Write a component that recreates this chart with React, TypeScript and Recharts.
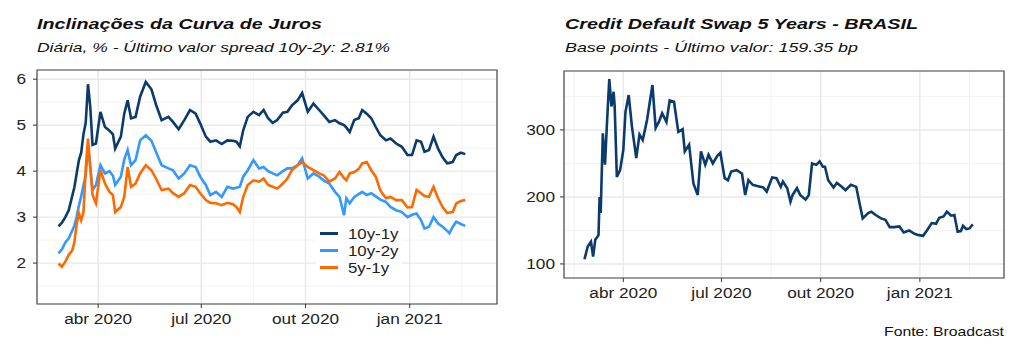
import { LineChart, Line, XAxis, YAxis, CartesianGrid, ReferenceArea, Legend } from 'recharts';

// Inclinações da curva (%, diária)
const slopeDates = [
  '2020-02-26', '2020-02-29', '2020-03-03', '2020-03-06', '2020-03-09', '2020-03-11', '2020-03-13', '2020-03-15',
  '2020-03-17', '2020-03-19', '2020-03-21', '2020-03-23', '2020-03-25', '2020-03-27', '2020-03-30',
  '2020-04-03', '2020-04-07', '2020-04-11', '2020-04-14', '2020-04-16', '2020-04-21', '2020-04-24', '2020-04-27', '2020-04-30',
  '2020-05-04', '2020-05-08', '2020-05-13', '2020-05-18', '2020-05-22', '2020-05-27',
  '2020-06-02', '2020-06-06', '2020-06-11', '2020-06-16', '2020-06-21', '2020-06-26', '2020-06-30',
  '2020-07-05', '2020-07-09', '2020-07-14', '2020-07-19', '2020-07-24', '2020-07-29',
  '2020-08-01', '2020-08-04', '2020-08-07', '2020-08-11', '2020-08-16', '2020-08-21', '2020-08-25', '2020-08-29',
  '2020-09-02', '2020-09-06', '2020-09-11', '2020-09-15', '2020-09-19', '2020-09-24', '2020-09-28',
  '2020-10-03', '2020-10-08', '2020-10-13', '2020-10-17', '2020-10-22', '2020-10-27', '2020-10-31',
  '2020-11-04', '2020-11-06', '2020-11-09', '2020-11-13', '2020-11-17', '2020-11-20', '2020-11-24', '2020-11-28',
  '2020-12-02', '2020-12-06', '2020-12-11', '2020-12-15', '2020-12-20', '2020-12-25', '2020-12-30',
  '2021-01-03', '2021-01-07', '2021-01-11', '2021-01-14', '2021-01-18', '2021-01-22', '2021-01-26', '2021-01-30',
  '2021-02-03', '2021-02-05', '2021-02-08', '2021-02-11', '2021-02-15', '2021-02-19',
];
const slope10y1y = [
  2.8, 2.88, 3.0, 3.15, 3.45, 3.65, 3.95, 4.24, 4.4, 4.8, 5.05, 5.89, 5.4, 4.57, 4.6,
  5.29, 4.96, 4.88, 4.8, 4.49, 4.75, 5.25, 5.54, 5.15,
  5.18, 5.62, 5.94, 5.78, 5.45, 5.11,
  5.18, 5.07, 4.91, 5.11, 5.33, 5.25, 5.04,
  4.75, 4.64, 4.67, 4.59, 4.67, 4.66,
  4.64, 4.54, 4.89, 5.18, 5.29, 5.22, 5.33, 5.15,
  5.05, 5.11, 5.27, 5.29, 5.43, 5.54, 5.7,
  5.29, 5.47, 5.33, 5.22, 5.07, 5.11, 5.04,
  5.0, 4.95, 4.85, 5.11, 5.15, 5.33, 5.25, 5.15,
  4.96, 4.78, 4.67, 4.71, 4.6, 4.53, 4.35,
  4.35, 4.67, 4.64, 4.42, 4.46, 4.75, 4.49, 4.3,
  4.17, 4.18, 4.2, 4.35, 4.4, 4.37,
];
const slope10y2y = [
  2.21, 2.3, 2.45, 2.54, 2.7, 2.82, 3.0, 3.25, 3.45, 3.7, 3.9, 4.55, 4.1, 3.59, 3.7,
  4.13, 3.95, 4.0, 3.9, 3.7, 3.88, 4.25, 4.46, 4.13,
  4.24, 4.67, 4.78, 4.66, 4.42, 4.13,
  4.06, 4.02, 3.84, 3.95, 4.13, 4.09, 3.88,
  3.7, 3.48, 3.55, 3.44, 3.66, 3.62,
  3.64, 3.66, 3.88, 4.02, 4.24, 4.06, 4.09, 4.0,
  3.95, 3.91, 4.0, 4.06, 4.06, 4.13, 4.28,
  3.84, 3.95, 3.88, 3.8, 3.73, 3.55, 3.44,
  3.04, 3.41, 3.3, 3.44, 3.5, 3.55, 3.48, 3.52,
  3.45, 3.38, 3.33, 3.22, 3.15, 3.11, 3.0,
  3.05, 3.08, 2.93, 2.75, 2.79, 3.0, 2.86, 2.79,
  2.7, 2.65, 2.79, 2.9, 2.85, 2.81,
];
const slope5y1y = [
  1.99, 1.92, 2.03, 2.18, 2.27, 2.45, 2.85, 3.08, 2.93, 3.1, 4.05, 4.71, 4.09, 3.48, 3.3,
  4.02, 3.73, 3.55, 3.48, 3.11, 3.22, 3.44, 4.09, 3.66,
  3.73, 3.95, 4.13, 4.02, 3.84, 3.59,
  3.62, 3.52, 3.44, 3.52, 3.7, 3.66, 3.52,
  3.37, 3.31, 3.3, 3.26, 3.31, 3.28,
  3.22, 3.11, 3.44, 3.7, 3.8, 3.77, 3.84, 3.7,
  3.66, 3.62, 3.73, 3.84, 4.02, 4.13, 4.2,
  4.09, 4.02, 3.95, 3.91, 3.77, 3.84, 3.98,
  3.85, 3.8, 3.95, 3.98, 4.05, 4.17, 4.2, 4.02,
  3.88, 3.58, 3.41, 3.44, 3.37, 3.37, 3.21,
  3.22, 3.59, 3.52, 3.46, 3.44, 3.66, 3.41, 3.22,
  3.09, 3.1, 3.11, 3.3, 3.35, 3.37,
];

// CDS 5 anos Brasil (bp)
const cdsDates = [
  '2020-02-25', '2020-02-28', '2020-03-02', '2020-03-04', '2020-03-06', '2020-03-09', '2020-03-10', '2020-03-11',
  '2020-03-13', '2020-03-15', '2020-03-17', '2020-03-19', '2020-03-21', '2020-03-23', '2020-03-24', '2020-03-26',
  '2020-03-29', '2020-04-01', '2020-04-03', '2020-04-06', '2020-04-09', '2020-04-13', '2020-04-16', '2020-04-19',
  '2020-04-23', '2020-04-28', '2020-05-01', '2020-05-04', '2020-05-07', '2020-05-11', '2020-05-14', '2020-05-18',
  '2020-05-22', '2020-05-26', '2020-05-28', '2020-06-01', '2020-06-05', '2020-06-09', '2020-06-12', '2020-06-16',
  '2020-06-19', '2020-06-23', '2020-06-27', '2020-06-30', '2020-07-04', '2020-07-07', '2020-07-10', '2020-07-15',
  '2020-07-20', '2020-07-23', '2020-07-26', '2020-07-30', '2020-08-04', '2020-08-09', '2020-08-12', '2020-08-17',
  '2020-08-21', '2020-08-25', '2020-08-27', '2020-08-31', '2020-09-03', '2020-09-05', '2020-09-09', '2020-09-12',
  '2020-09-17', '2020-09-20', '2020-09-23', '2020-09-27', '2020-09-30', '2020-10-03', '2020-10-05', '2020-10-08',
  '2020-10-13', '2020-10-16', '2020-10-20', '2020-10-24', '2020-10-29', '2020-11-03', '2020-11-06', '2020-11-09',
  '2020-11-14', '2020-11-17', '2020-11-21', '2020-11-26', '2020-11-30', '2020-12-04', '2020-12-08', '2020-12-13',
  '2020-12-17', '2020-12-22', '2020-12-27', '2020-12-31', '2021-01-04', '2021-01-08', '2021-01-12', '2021-01-16',
  '2021-01-19', '2021-01-23', '2021-01-26', '2021-01-30', '2021-02-02', '2021-02-05', '2021-02-08', '2021-02-10',
  '2021-02-13', '2021-02-16', '2021-02-19',
];
const cdsValues = [
  107, 126, 133, 111, 136, 143, 200, 176,
  295, 248, 315, 376, 335, 357, 335, 230,
  240, 270, 327, 352, 305, 258, 293, 285,
  315, 367, 303, 312, 325, 312, 344, 342,
  297, 301, 268, 278, 220, 203, 268, 248,
  263, 250, 261, 266, 228, 225, 238, 240,
  235, 203, 225, 218, 216, 214, 208, 229,
  228, 215, 223, 213, 193, 203, 213, 203,
  196, 203, 250, 248, 253, 245, 245, 225,
  214, 221, 216, 210, 218, 215, 191, 168,
  176, 178, 173, 168, 166, 155, 155, 156,
  147, 150, 145, 143, 142, 151, 161, 160,
  169, 171, 178, 172, 173, 148, 149, 157,
  152, 153, 159.35,
];

const quarterTicks = ['2020-04-01', '2020-07-01', '2020-10-01', '2021-01-01'];
const quarterLabels = ['abr 2020', 'jul 2020', 'out 2020', 'jan 2021'];
const slopeYTicks = [2, 3, 4, 5, 6];
const cdsYTicks = [100, 200, 300];

const NAVY = '#0b3a6c';
const LIGHT = '#3399ff';
const ORANGE = '#ff6a00';
const FONT = '"Liberation Sans", Arial, sans-serif';
const STRETCH = 1.23;

const tq = quarterTicks.map((d) => Date.parse(d));
const minorOf = (major: number[], lo: number, hi: number) => {
  const step = major[1] - major[0];
  const out: number[] = [major[0] - step / 2];
  for (let i = 0; i < major.length - 1; i++) out.push((major[i] + major[i + 1]) / 2);
  out.push(major[major.length - 1] + (major[major.length - 1] - major[major.length - 2]) / 2);
  return out.filter((v) => v > lo && v < hi);
};

const slopeData = slopeDates.map((d, i) => ({
  t: Date.parse(d),
  a: slope10y1y[i],
  b: slope10y2y[i],
  c: slope5y1y[i],
}));
const cdsData = cdsDates.map((d, i) => ({ t: Date.parse(d), v: cdsValues[i] }));

const XTick = ({ x, y, payload }: any) => {
  const idx = tq.indexOf(payload.value);
  return (
    <g transform={`translate(${x},${y})`}>
      <text transform={`scale(${STRETCH},1)`} textAnchor="middle" dy="0.71em" fontSize={14} fill="#222" fontFamily={FONT}>
        {idx >= 0 ? quarterLabels[idx] : ''}
      </text>
    </g>
  );
};

const YTick = ({ x, y, payload }: any) => (
  <g transform={`translate(${x},${y})`}>
    <text transform={`scale(${STRETCH},1)`} textAnchor="end" dy="0.355em" fontSize={14} fill="#222" fontFamily={FONT}>
      {payload.value}
    </text>
  </g>
);

const SlopeLegend = ({ payload }: any) => (
  <div style={{ background: '#fff', padding: '3px 4px', fontFamily: FONT }}>
    {(payload || []).map((p: any) => (
      <div key={p.value} style={{ display: 'flex', alignItems: 'center', height: 17 }}>
        <span style={{ display: 'inline-block', width: 18, height: 3, background: p.color, marginRight: 10 }} />
        <span style={{ fontSize: 14, color: '#222', display: 'inline-block', transform: 'scaleX(1.2)', transformOrigin: 'left' }}>
          {p.value}
        </span>
      </div>
    ))}
  </div>
);

function Panel({
  data,
  xDomain,
  yDomain,
  yTicks,
  yWidth,
  yTickMargin,
  margin,
  children,
}: any) {
  const minorX = minorOf(tq, xDomain[0], xDomain[1]);
  const minorY = minorOf(yTicks, yDomain[0], yDomain[1]);
  return (
    <LineChart width={512} height={352} data={data} margin={margin}>
      <XAxis xAxisId="minor" type="number" dataKey="t" domain={xDomain} ticks={minorX} hide allowDataOverflow />
      <YAxis yAxisId="minor" type="number" domain={yDomain} ticks={minorY} hide allowDataOverflow />
      <CartesianGrid xAxisId="minor" yAxisId="minor" stroke="#f3f3f3" strokeWidth={1} />
      <CartesianGrid stroke="#e8e8e8" strokeWidth={1.4} />
      <XAxis
        type="number"
        dataKey="t"
        domain={xDomain}
        ticks={tq}
        interval={0}
        allowDataOverflow
        axisLine={false}
        tickLine={{ stroke: '#333' }}
        tickSize={4}
        tickMargin={6}
        height={30}
        tick={<XTick />}
      />
      <YAxis
        type="number"
        domain={yDomain}
        ticks={yTicks}
        interval={0}
        allowDataOverflow
        axisLine={false}
        tickLine={{ stroke: '#333' }}
        tickSize={4}
        tickMargin={yTickMargin}
        width={yWidth}
        tick={<YTick />}
      />
      {children}
      <ReferenceArea
        x1={xDomain[0]}
        x2={xDomain[1]}
        y1={yDomain[0]}
        y2={yDomain[1]}
        fill="none"
        stroke="#4d4d4d"
        strokeWidth={1.2}
      />
    </LineChart>
  );
}

export default function App() {
  const slopeX = [Date.parse('2020-02-07'), Date.parse('2021-03-19')];
  const cdsX = [Date.parse('2020-02-06'), Date.parse('2021-03-20')];
  return (
    <div style={{ position: 'absolute', left: 0, top: 0, width: 1024, height: 352, background: '#fff', fontFamily: FONT }}>
      <div style={{ position: 'absolute', left: 0, top: 0 }}>
        <Panel
          data={slopeData}
          xDomain={slopeX}
          yDomain={[1.11, 6.2]}
          yTicks={slopeYTicks}
          yWidth={37}
          yTickMargin={7}
          margin={{ top: 70, right: 15, bottom: 18, left: 0 }}
        >
          <Line dataKey="a" name="10y-1y" stroke={NAVY} strokeWidth={2.6} dot={false} isAnimationActive={false} />
          <Line dataKey="b" name="10y-2y" stroke={LIGHT} strokeWidth={2.6} dot={false} isAnimationActive={false} />
          <Line dataKey="c" name="5y-1y" stroke={ORANGE} strokeWidth={2.6} dot={false} isAnimationActive={false} />
          <Legend
            layout="vertical"
            align="center"
            verticalAlign="middle"
            width={86}
            content={<SlopeLegend />}
            wrapperStyle={{ left: 316, top: 222, width: 86 }}
          />
        </Panel>
      </div>
      <div style={{ position: 'absolute', left: 512, top: 0 }}>
        <Panel
          data={cdsData}
          xDomain={cdsX}
          yDomain={[79, 388]}
          yTicks={cdsYTicks}
          yWidth={52}
          yTickMargin={5}
          margin={{ top: 71, right: 20, bottom: 44, left: 0 }}
        >
          <Line dataKey="v" name="CDS" stroke={NAVY} strokeWidth={2.6} dot={false} isAnimationActive={false} />
        </Panel>
      </div>
      <svg width={1024} height={352} style={{ position: 'absolute', left: 0, top: 0, pointerEvents: 'none' }}>
        <g fontFamily={FONT} fill="#111">
          <text x={37} y={29} fontSize={15} fontWeight="bold" fontStyle="italic" textLength={285} lengthAdjust="spacingAndGlyphs">
            Inclinações da Curva de Juros
          </text>
          <text x={37} y={51.5} fontSize={13.5} fontStyle="italic" textLength={353} lengthAdjust="spacingAndGlyphs">
            Diária, % - Último valor spread 10y-2y: 2.81%
          </text>
          <text x={565} y={29} fontSize={15} fontWeight="bold" fontStyle="italic" textLength={353} lengthAdjust="spacingAndGlyphs">
            Credit Default Swap 5 Years - BRASIL
          </text>
          <text x={565} y={51.5} fontSize={13.5} fontStyle="italic" textLength={293} lengthAdjust="spacingAndGlyphs">
            Base points - Último valor: 159.35 bp
          </text>
          <text x={884} y={336} fontSize={13} textLength={120} lengthAdjust="spacingAndGlyphs">
            Fonte: Broadcast
          </text>
        </g>
      </svg>
    </div>
  );
}
